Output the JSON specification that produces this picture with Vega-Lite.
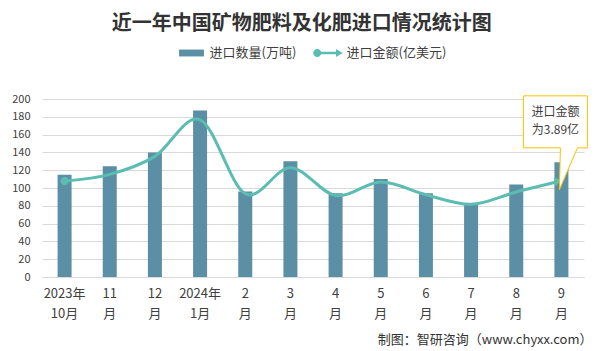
{
  "$schema": "https://vega.github.io/schema/vega-lite/v6.json",
  "width": 542,
  "height": 178,
  "autosize": {"type": "none"},
  "padding": {"left": 42, "top": 99, "right": 20, "bottom": 74},
  "background": "white",
  "title": {
    "text": "近一年中国矿物肥料及化肥进口情况统计图",
    "font": "Noto Sans CJK SC",
    "fontSize": 20,
    "fontWeight": "bold",
    "color": "#333333",
    "anchor": "middle",
    "frame": "bounds",
    "offset": 4
  },
  "data": {
    "values": [
      {"m": "2023年|10月", "qty": 115, "amt": 3.88},
      {"m": "11|月", "qty": 124.5, "amt": 4.15},
      {"m": "12|月", "qty": 140, "amt": 4.88},
      {"m": "2024年|1月", "qty": 187, "amt": 6.36},
      {"m": "2|月", "qty": 96, "amt": 3.37},
      {"m": "3|月", "qty": 130, "amt": 4.42},
      {"m": "4|月", "qty": 94, "amt": 3.30},
      {"m": "5|月", "qty": 110, "amt": 3.84},
      {"m": "6|月", "qty": 94, "amt": 3.33},
      {"m": "7|月", "qty": 82.5, "amt": 2.94},
      {"m": "8|月", "qty": 104, "amt": 3.44},
      {"m": "9|月", "qty": 129, "amt": 3.89}
    ]
  },
  "encoding": {
    "x": {
      "field": "m",
      "type": "nominal",
      "sort": null,
      "scale": {"paddingInner": 0.69, "paddingOuter": 0.345},
      "axis": {
        "labelExpr": "split(datum.label, '|')",
        "labelAngle": 0,
        "labelFont": "Noto Sans CJK SC",
        "labelFontSize": 13,
        "labelColor": "#404040",
        "labelLineHeight": 20,
        "labelPadding": 10,
        "labelBaseline": "top",
        "ticks": false,
        "tickSize": 0,
        "domainColor": "#D9D9D9",
        "grid": false,
        "title": "制图：智研咨询（www.chyxx.com）",
        "titleFont": "Noto Sans CJK SC",
        "titleFontSize": 13,
        "titleFontWeight": "normal",
        "titleColor": "#333333",
        "titleX": 550,
        "titleY": 62,
        "titleAlign": "right",
        "titleBaseline": "middle",
        "titleAngle": 0
      }
    }
  },
  "layer": [
    {
      "mark": {"type": "bar", "color": "#5B8FA6"},
      "encoding": {
        "y": {
          "field": "qty",
          "type": "quantitative",
          "scale": {"domain": [0, 200]},
          "axis": {
            "values": [0, 20, 40, 60, 80, 100, 120, 140, 160, 180, 200],
            "title": null,
            "domain": false,
            "ticks": false,
            "tickSize": 0,
            "labelPadding": 12,
            "labelFont": "Noto Sans CJK SC",
            "labelFontSize": 11,
            "labelColor": "#404040",
            "gridColor": "#D9D9D9",
            "gridWidth": 1
          }
        },
        "color": {
          "datum": "进口数量(万吨)",
          "scale": {"domain": ["进口数量(万吨)", "进口金额(亿美元)"], "range": ["#5B8FA6", "#5BBDB2"]},
          "legend": {
            "orient": "none",
            "legendX": 134.5,
            "legendY": -61,
            "direction": "horizontal",
            "title": null,
            "padding": 0,
            "symbolSize": 900,
            "symbolStrokeWidth": 0,
            "labelFont": "Noto Sans CJK SC",
            "labelFontSize": 13,
            "labelColor": "#404040",
            "labelOffset": 3,
            "columnPadding": 16,
            "encode": {
              "symbols": {
                "update": {
                  "shape": {"signal": "datum.value == '进口数量(万吨)' ? 'M-0.83,-0.23H0.83V0.23H-0.83Z' : 'M-1.02,0A0.27,0.27 0 1,1 -0.48,0A0.27,0.27 0 1,1 -1.02,0ZM-0.7,-0.09H0.6V0.09H-0.7ZM0.5,-0.27L0.95,0L0.5,0.27Z'"},
                  "fill": {"signal": "datum.value == '进口数量(万吨)' ? '#5B8FA6' : '#5BBDB2'"},
                  "stroke": {"value": "transparent"},
                  "strokeWidth": {"value": 0},
                  "opacity": {"value": 1}
                }
              }
            }
          }
        }
      }
    },
    {
      "mark": {"type": "line", "interpolate": "cardinal", "strokeWidth": 3, "color": "#5BBDB2"},
      "encoding": {
        "y": {"field": "amt", "type": "quantitative", "scale": {"domain": [0, 7.2]}, "axis": null},
        "color": {"datum": "进口金额(亿美元)"}
      }
    },
    {
      "transform": [{"filter": "datum.m == '2023年|10月'"}],
      "mark": {"type": "point", "shape": "circle", "filled": true, "size": 70, "color": "#5BBDB2", "opacity": 1},
      "encoding": {
        "y": {"field": "amt", "type": "quantitative", "scale": {"domain": [0, 7.2]}, "axis": null}
      }
    },
    {
      "transform": [{"filter": "datum.m == '9|月'"}],
      "mark": {"type": "point", "shape": "triangle-right", "filled": true, "size": 80, "angle": -14, "xOffset": -3, "color": "#5BBDB2", "opacity": 1},
      "encoding": {
        "y": {"field": "amt", "type": "quantitative", "scale": {"domain": [0, 7.2]}, "axis": null}
      }
    },
    {
      "transform": [{"filter": "datum.m == '9|月'"}],
      "mark": {"type": "point", "shape": "M-38,-85H26V-33H16L-2,9L-1,-33H-38Z", "size": 4, "filled": true, "fill": "white", "stroke": "#FFC000", "strokeWidth": 1, "opacity": 1},
      "encoding": {
        "y": {"field": "amt", "type": "quantitative", "scale": {"domain": [0, 7.2]}, "axis": null}
      }
    },
    {
      "transform": [{"filter": "datum.m == '9|月'"}],
      "mark": {"type": "text", "text": ["进口金额", "为3.89亿"], "font": "Noto Sans CJK SC", "fontSize": 12, "lineHeight": 18, "color": "#404040", "align": "center", "baseline": "top", "dx": -6, "dy": -74},
      "encoding": {
        "y": {"field": "amt", "type": "quantitative", "scale": {"domain": [0, 7.2]}, "axis": null}
      }
    }
  ],
  "resolve": {"scale": {"y": "independent"}},
  "config": {
    "view": {"stroke": null},
    "axis": {"gridColor": "#D9D9D9"}
  }
}
